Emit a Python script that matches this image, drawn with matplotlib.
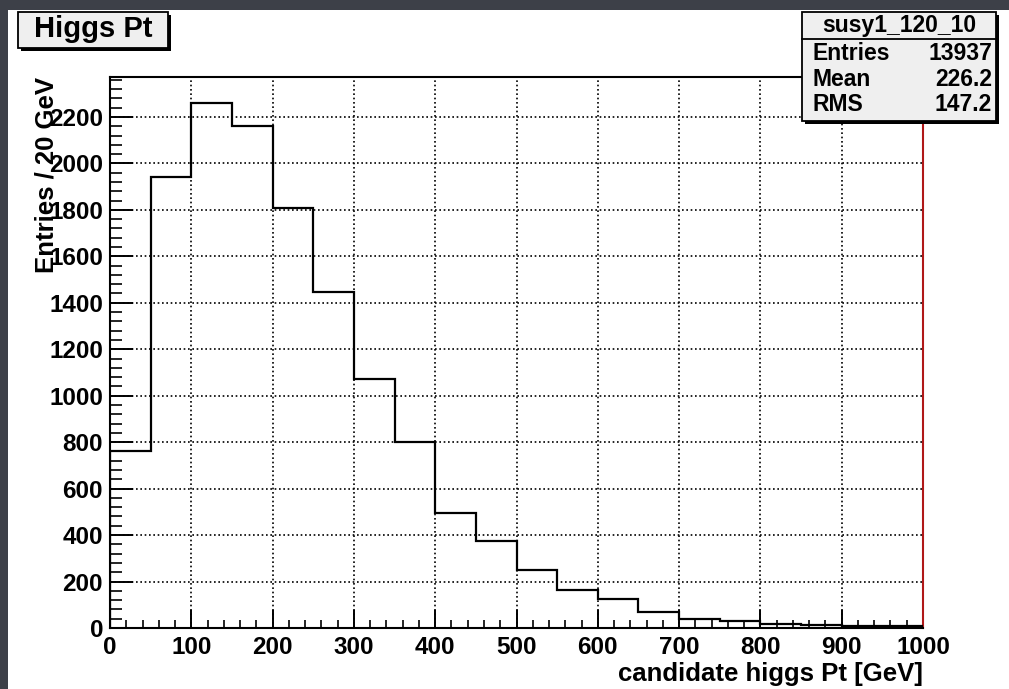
import numpy as np
import matplotlib
matplotlib.use("Agg")
import matplotlib.pyplot as plt
from matplotlib.patches import Rectangle
from matplotlib.ticker import MultipleLocator

# histogram contents (50 GeV bins)
bin_edges = np.arange(0, 1001, 50)
counts = [760, 1940, 2259, 2163, 1809, 1447, 1072, 800, 494, 374,
          251, 162, 123, 67, 37, 29, 16, 12, 10, 7]
x_ticks = np.arange(0, 1001, 100)
y_ticks = np.arange(0, 2201, 200)

title = "Higgs Pt"
x_title = "candidate higgs Pt [GeV]"
y_title = "Entries / 20 GeV"
stats_name = "susy1_120_10"
stats_labels = ["Entries", "Mean", "RMS"]
stats_values = ["13937", "226.2", "147.2"]

W, H = 1009, 689
plt.rcParams['font.family'] = ['Liberation Sans', 'DejaVu Sans']
plt.rcParams['font.weight'] = 'bold'


def fx(px):
    return px / W


def fy(py):
    return 1 - py / H


def box(x0, y0, x1, y1, face, shadow=3, z=3):
    # ROOT style pave: black drop shadow, then the box itself
    fig.add_artist(Rectangle((fx(x0 + shadow), fy(y1 + shadow)), fx(x1 - x0), fy(y0) - fy(y1),
                             transform=fig.transFigure, facecolor='black', edgecolor='none', zorder=z))
    fig.add_artist(Rectangle((fx(x0), fy(y1)), fx(x1 - x0), fy(y0) - fy(y1),
                             transform=fig.transFigure, facecolor=face, edgecolor='black',
                             linewidth=1.3, zorder=z + 0.1))


fig = plt.figure(figsize=(W / 100, H / 100), dpi=100, facecolor='#3d4048')
# white canvas on the dark slide
fig.add_artist(Rectangle((fx(8), 0), 1, fy(10), transform=fig.transFigure,
                         facecolor='white', edgecolor='none', zorder=-1))

ax = fig.add_axes([fx(110), fy(628), fx(923) - fx(110), fy(77) - fy(628)])
ax.stairs(counts, bin_edges, color='black', linewidth=1.6, zorder=3)
ax.set_xlim(0, 1000)
ax.set_ylim(0, 2372)
ax.set_xticks(x_ticks)
ax.set_yticks(y_ticks)
ax.xaxis.set_minor_locator(MultipleLocator(20))
ax.yaxis.set_minor_locator(MultipleLocator(40))
ax.set_axisbelow(True)
ax.grid(True, which='major', color='black', linestyle=(0, (1, 1.6)), linewidth=1.2)

ax.tick_params(axis='y', which='major', direction='in', length=16.5, width=1.4, labelsize=17.5, pad=5)
ax.tick_params(axis='y', which='minor', direction='in', length=8.5, width=1.2)
ax.tick_params(axis='x', which='major', direction='in', length=13, width=1.4, labelsize=17.5, pad=6)
ax.tick_params(axis='x', which='minor', direction='in', length=6, width=1.2)
for s in ax.spines.values():
    s.set_linewidth(1.5)
ax.spines['right'].set_color('#b01818')

fig.text(fx(923), fy(681), x_title, ha='right', va='baseline', fontsize=18.5)
fig.text(fx(47), fy(77), y_title, rotation=90, ha='center', va='top', fontsize=18.5)

# title pave
box(18, 12, 168, 48, '#efefef')
fig.text(fx(93), fy(37), title, ha='center', va='baseline', fontsize=21, zorder=5)

# stats pave
box(802, 12, 996, 121, '#efefef')
fig.add_artist(plt.Line2D([fx(802), fx(996)], [fy(39), fy(39)], transform=fig.transFigure,
                          color='black', linewidth=1.3, zorder=4))
fig.text(fx(899), fy(32), stats_name, ha='center', va='baseline', fontsize=16.5, zorder=5)
for i, (lab, val) in enumerate(zip(stats_labels, stats_values)):
    yb = fy(60 + i * 25.5)
    fig.text(fx(812), yb, lab, ha='left', va='baseline', fontsize=16.5, zorder=5)
    fig.text(fx(992), yb, val, ha='right', va='baseline', fontsize=16.5, zorder=5)

fig.savefig("out.png", dpi=100, facecolor=fig.get_facecolor())
